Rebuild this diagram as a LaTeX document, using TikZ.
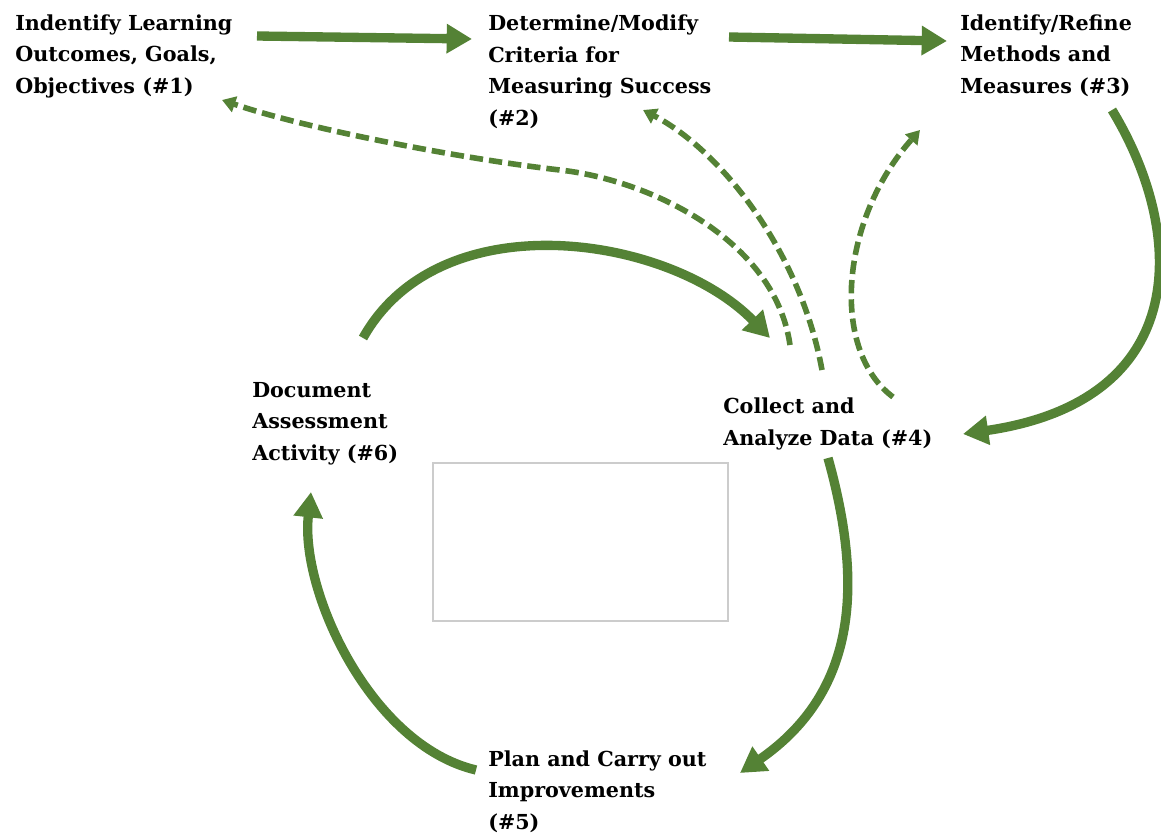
\documentclass[tikz,border=0pt]{standalone}
\usepackage{fontspec}
\setmainfont{DejaVu Serif}
\usetikzlibrary{arrows.meta}
\definecolor{leaf}{RGB}{84,130,53}
\begin{document}
\begin{tikzpicture}[
  x=0.75pt, y=-0.75pt,
  stage/.style={anchor=base west, align=left, inner sep=0pt, font=\bfseries\fontsize{15.5}{23.6}\selectfont},
  flow/.style={draw=leaf, line width=7pt, -{Triangle[width=21pt,length=19pt]}},
  feedback/.style={draw=leaf, line width=4.2pt, dash pattern=on 10pt off 4.5pt, -{Triangle[width=12pt,length=10pt]}}]

\useasboundingbox (0,0) rectangle (1161,835);

% Position the nodes at fixed points (anchored on their last line)
\node[stage] (outcomes) at (15,93) {Indentify Learning \\ Outcomes, Goals, \\ Objectives (\#1)};
\node[stage] (criteria) at (488,125) {Determine/Modify \\ Criteria for \\ Measuring Success \\ (\#2)};
\node[stage] (methods) at (960,93) {Identify/Refine \\ Methods and \\ Measures (\#3)};
\node[stage] (document) at (252,460) {Document \\ Assessment \\ Activity (\#6)};
\node[stage] (collect) at (723,445) {Collect and \\ Analyze Data (\#4)};
\node[stage] (improve) at (488,829) {Plan and Carry out \\ Improvements \\ (\#5)};

% empty frame in the middle
\draw[black!20, line width=0.8pt] (433,463) rectangle (728,621);

% Draw the arrows between the nodes
\draw[flow] ([shift={(242,-57)}]outcomes.base west) -- ([shift={(-16,-86)}]criteria.base west);
\draw[flow] ([shift={(241,-88)}]criteria.base west) -- ([shift={(-13,-52)}]methods.base west);
\draw[flow] ([shift={(152,17)}]methods.base west) .. controls (1185,230) and (1195,400) .. ([shift={(240,-11)}]collect.base west);
\draw[flow] ([shift={(105,13)}]collect.base west) .. controls (862,580) and (860,690) .. ([shift={(252,-56)}]improve.base west);
\draw[flow] ([shift={(-12,-59)}]improve.base west) .. controls (370,745) and (300,590) .. ([shift={(59,32)}]document.base west);
\draw[flow] ([shift={(111,-122)}]document.base west) .. controls (440,200) and (670,235) .. ([shift={(47,-107)}]collect.base west);

% dashed ones go back from data collection
\draw[feedback] ([shift={(67,-100)}]collect.base west) .. controls (775,240) and (650,180) .. (560,170)
  .. controls (470,160) and (310,130) .. ([shift={(207,7)}]outcomes.base west);
\draw[feedback] ([shift={(99,-75)}]collect.base west) .. controls (800,250) and (720,150) .. ([shift={(155,-15)}]criteria.base west);
\draw[feedback] ([shift={(170,-48)}]collect.base west) .. controls (830,350) and (840,220) .. ([shift={(-40,37)}]methods.base west);

\end{tikzpicture}
\end{document}
